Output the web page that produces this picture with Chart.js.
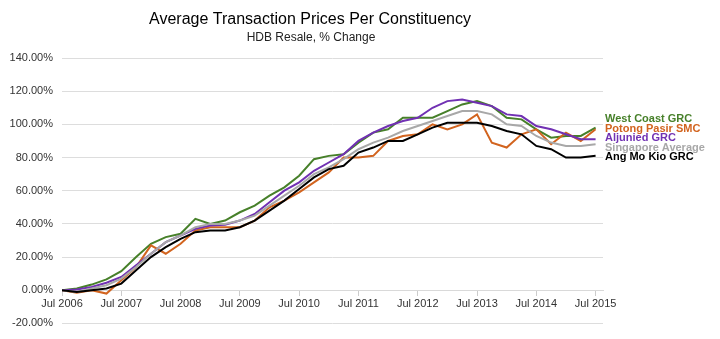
<!DOCTYPE html>
<html lang="en">
<head>
    <meta charset="UTF-8">
    <title>Average Transaction Prices Per Constituency</title>
    <script src="https://cdn.jsdelivr.net/npm/chart.js"></script>
    <style>
        html, body {
            margin: 0;
            padding: 0;
            background: #fff;
        }
        .chart-box {
            width: 720px;
            height: 339px;
        }
    </style>
</head>
<body>
    <div class="chart-box">
        <canvas id="chart" width="720" height="339"></canvas>
    </div>

    <script>
        // one tick label per year, data is quarterly (Jul 2006 .. Jul 2015)
        const yearLabels = ['Jul 2006', 'Jul 2007', 'Jul 2008', 'Jul 2009', 'Jul 2010',
                            'Jul 2011', 'Jul 2012', 'Jul 2013', 'Jul 2014', 'Jul 2015'];

        const westCoast = [0, 1, 3.4, 6.5, 11.5, 20, 28, 32, 34, 43, 40, 42, 47, 51, 57, 62, 69, 79, 81,
                           82, 89, 95, 97, 104, 104, 104, 108, 112, 114, 111, 104, 103, 97, 92, 93, 93, 98];
        const potongPasir = [0, -1.5, 0, -2, 6, 14, 27, 22, 28, 36, 38, 38, 38, 42, 50, 54, 59, 65, 71,
                             80, 80, 81, 90, 93, 94, 100, 97, 100, 106, 89, 86, 94, 97, 88, 95, 90, 97];
        const aljunied = [0, 0.5, 2, 4.5, 8, 15, 22, 29, 33, 37, 39, 39.5, 42, 46, 53, 60, 65, 72, 77,
                          82, 90, 95, 99, 102, 104, 110, 114, 115, 113, 111, 106, 105, 99, 97, 94, 91, 91];
        const sgAverage = [0, -1, 1, 3, 7, 14, 22, 29, 33, 38, 40, 40, 42, 45, 51, 57, 63, 70, 74,
                           79, 85, 89, 92, 96, 99, 102, 105, 108, 108, 106, 100, 99, 93, 89, 87, 87, 88];
        const angMoKio = [0, -1, 0, 1, 4, 12, 20, 26, 31, 35, 36, 36, 38, 42, 48, 54, 61, 68, 73,
                          75, 83, 86, 90, 90, 94, 98, 101, 101, 101, 99, 96, 94, 87, 85, 80, 80, 81];

        const seriesNames = ['West Coast GRC', 'Potong Pasir SMC', 'Aljunied GRC', 'Singapore Average', 'Ang Mo Kio GRC'];
        const seriesColors = ['#47802a', '#d2641f', '#7131b3', '#a8a8a8', '#000000'];
        const seriesValues = [westCoast, potongPasir, aljunied, sgAverage, angMoKio];

        const FONT = '"Liberation Sans", Arial, Helvetica, sans-serif';

        // title + subtitle and the coloured names at the end of the lines
        const labelsPlugin = {
            id: 'labels',
            afterDraw(chart) {
                const ctx = chart.ctx;
                ctx.save();
                ctx.textAlign = 'center';
                ctx.textBaseline = 'middle';
                ctx.fillStyle = '#000';
                ctx.font = '16px ' + FONT;
                ctx.fillText('Average Transaction Prices Per Constituency', 310, 20);
                ctx.fillStyle = '#222';
                ctx.font = '12px ' + FONT;
                ctx.fillText('HDB Resale, % Change', 311, 38);

                ctx.textAlign = 'left';
                ctx.font = 'bold 11px ' + FONT;
                const tops = [119, 128.5, 138, 147.5, 157];
                seriesNames.forEach((name, i) => {
                    ctx.fillStyle = seriesColors[i];
                    ctx.fillText(name, 605, tops[i]);
                });
                ctx.restore();
            }
        };

        const ctx = document.getElementById('chart').getContext('2d');
        new Chart(ctx, {
            type: 'line',
            data: {
                datasets: seriesValues.map((vals, i) => ({
                    label: seriesNames[i],
                    data: vals.map((v, q) => ({ x: q, y: v })),
                    borderColor: seriesColors[i],
                    backgroundColor: seriesColors[i],
                    borderWidth: 2,
                    pointRadius: 0,
                    tension: 0,
                    fill: false
                })).reverse()
            },
            options: {
                responsive: false,
                animation: false,
                layout: {
                    padding: { top: 58, bottom: 15, right: 117, left: 0 }
                },
                plugins: {
                    legend: { display: false },
                    title: { display: false },
                    tooltip: { enabled: false }
                },
                scales: {
                    x: {
                        type: 'linear',
                        position: { y: 0 },
                        min: 0,
                        max: 36.5,
                        // a tick every 4 quarters = one per July
                        afterBuildTicks: (scale) => {
                            scale.ticks = yearLabels.map((_, i) => ({ value: i * 4 }));
                        },
                        ticks: {
                            autoSkip: false,
                            maxRotation: 0,
                            padding: 2,
                            color: '#333',
                            font: { family: FONT, size: 11 },
                            callback: (value) => yearLabels[value / 4]
                        },
                        grid: {
                            drawOnChartArea: false,
                            drawTicks: true,
                            tickLength: 5,
                            color: '#cccccc'
                        },
                        border: { display: true, color: '#d9d9d9' }
                    },
                    y: {
                        min: -20,
                        max: 140,
                        afterFit: (scale) => { scale.width = 62; },
                        ticks: {
                            stepSize: 20,
                            padding: 9,
                            color: '#333',
                            font: { family: FONT, size: 11 },
                            callback: (value) => value.toFixed(2) + '%'
                        },
                        grid: {
                            color: '#dddddd',
                            drawTicks: false
                        },
                        border: { display: false }
                    }
                }
            },
            plugins: [labelsPlugin]
        });
    </script>
</body>
</html>
